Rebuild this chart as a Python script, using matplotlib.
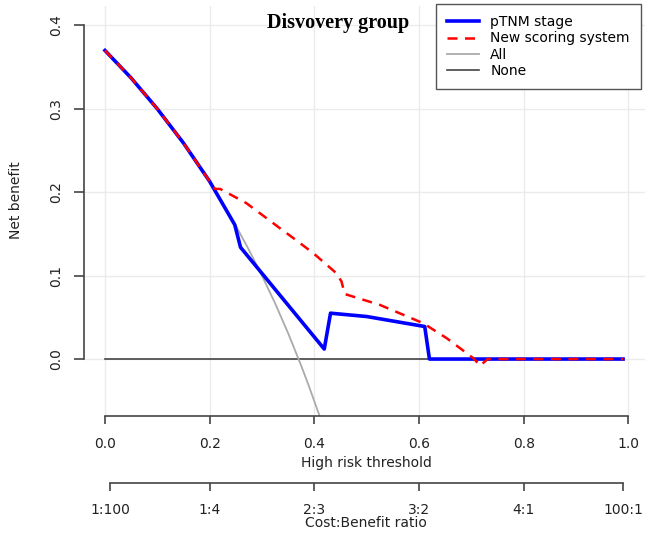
import numpy as np
import matplotlib
matplotlib.use('Agg')
import matplotlib.pyplot as plt

plt.rcParams['font.family'] = ['DejaVu Sans']

# threshold probabilities and net benefit
pt_all = [0.0, 0.05, 0.10, 0.15, 0.20, 0.25, 0.275, 0.30, 0.325, 0.35, 0.375, 0.39, 0.41]
nb_all = [0.370, 0.337, 0.300, 0.259, 0.213, 0.160, 0.131, 0.100, 0.067, 0.031, -0.008, -0.033, -0.068]

pt_tnm = [0.0, 0.05, 0.10, 0.15, 0.20, 0.248, 0.259, 0.419, 0.431, 0.50, 0.611, 0.620, 0.99]
nb_tnm = [0.370, 0.337, 0.300, 0.259, 0.213, 0.161, 0.134, 0.012, 0.055, 0.051, 0.039, 0.0, 0.0]

pt_new = [0.0, 0.05, 0.10, 0.15, 0.20, 0.21, 0.22, 0.27, 0.30, 0.334, 0.36, 0.398, 0.42,
          0.442, 0.452, 0.458, 0.525, 0.608, 0.653, 0.704, 0.717, 0.731, 0.99]
nb_new = [0.370, 0.337, 0.300, 0.259, 0.213, 0.204, 0.204, 0.187, 0.173, 0.157, 0.145, 0.127, 0.115,
          0.103, 0.093, 0.078, 0.065, 0.043, 0.025, 0.001, -0.008, 0.0, 0.0]

pt_none = [0.0, 0.99]
nb_none = [0.0, 0.0]

x_ticks = [0.0, 0.2, 0.4, 0.6, 0.8, 1.0]
y_ticks = [0.0, 0.1, 0.2, 0.3, 0.4]
cb_ticks = [0.0099, 0.2, 0.4, 0.6, 0.8, 0.990]
cb_labels = ['1:100', '1:4', '2:3', '3:2', '4:1', '100:1']

fig = plt.figure(figsize=(6.45, 5.37), dpi=100)
ax = fig.add_axes([0.1302, 0.2253, 0.8698, 0.7635])

for x in x_ticks:
    ax.axvline(x, color='#ebebeb', lw=1, zorder=0)
for y in y_ticks:
    ax.axhline(y, color='#ebebeb', lw=1, zorder=0)

ax.plot(pt_none, nb_none, color='#444444', lw=1.2, label='None')
ax.plot(pt_all, nb_all, color='#aaaaaa', lw=1.3, label='All')
ax.plot(pt_tnm, nb_tnm, color='#0000ff', lw=2.6, label='pTNM stage')
ax.plot(pt_new, nb_new, color='#ff0000', lw=1.8, ls=(0, (4, 3)), label='New scoring system')

ax.set_xlim(-0.0401, 1.0319)
ax.set_ylim(-0.0683, 0.4233)

for s in ['top', 'right']:
    ax.spines[s].set_visible(False)
ax.spines['bottom'].set_bounds(0, 1)
ax.spines['left'].set_bounds(0, 0.4)
for s in ['bottom', 'left']:
    ax.spines[s].set_color('#444444')
    ax.spines[s].set_linewidth(1.2)

ax.set_xticks(x_ticks)
ax.set_xticklabels([f'{v:.1f}' for v in x_ticks])
ax.set_yticks(y_ticks)
ax.set_yticklabels([f'{v:.1f}' for v in y_ticks], rotation=90, va='center')
ax.tick_params(axis='x', length=6, width=1.2, color='#444444', pad=9, labelsize=10, labelcolor='#222222')
ax.tick_params(axis='y', length=7, width=1.2, color='#444444', pad=8, labelsize=10, labelcolor='#222222')

ax.set_xlabel('High risk threshold', fontsize=10, color='#222222', va='center')
ax.xaxis.set_label_coords(366 / 645, 1 - 463 / 537, transform=fig.transFigure)
ax.set_ylabel('Net benefit', fontsize=10, color='#222222', va='center')
ax.yaxis.set_label_coords(16 / 645, 1 - 200 / 537, transform=fig.transFigure)

ax.text(0.445, 0.403, 'Disvovery group', fontsize=14.5, fontweight='bold',
        family='Liberation Serif', ha='center', va='center')

handles, labels = ax.get_legend_handles_labels()
order = [2, 3, 1, 0]
leg = ax.legend([handles[i] for i in order], [labels[i] for i in order],
                loc='upper left', bbox_to_anchor=(436 / 645, 1 - 4 / 537),
                bbox_transform=fig.transFigure, fontsize=10, fancybox=False,
                edgecolor='#555555', framealpha=1, borderpad=0.8, labelspacing=0.17,
                handlelength=2.3, handletextpad=0.8, borderaxespad=0)
leg.get_frame().set_linewidth(1.0)

# cost:benefit ratio axis
ax2 = fig.add_axes([0.1302, 1 - 483 / 537, 0.8698, 0.0001])
ax2.set_xlim(ax.get_xlim())
ax2.patch.set_visible(False)
for s in ['top', 'right', 'left']:
    ax2.spines[s].set_visible(False)
ax2.spines['bottom'].set_bounds(cb_ticks[0], cb_ticks[-1])
ax2.spines['bottom'].set_color('#444444')
ax2.spines['bottom'].set_linewidth(1.2)
ax2.set_yticks([])
ax2.set_xticks(cb_ticks)
ax2.set_xticklabels(cb_labels)
ax2.tick_params(axis='x', length=6, width=1.2, color='#444444', pad=8.5, labelsize=10, labelcolor='#222222')
ax2.set_xlabel('Cost:Benefit ratio', fontsize=10, color='#222222', va='center')
ax2.xaxis.set_label_coords(366 / 645, 1 - 523 / 537, transform=fig.transFigure)

plt.savefig('out.png', dpi=100)
